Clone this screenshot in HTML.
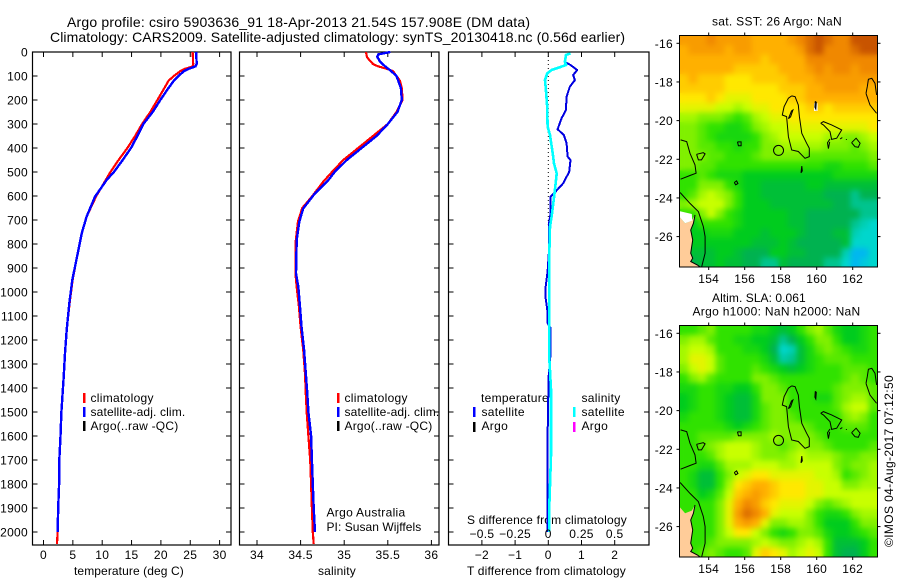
<!DOCTYPE html>
<html lang="en">
<head>
<meta charset="utf-8">
<title>Argo profile chart</title>
<style>
html,body{margin:0;padding:0;background:#fff;}
svg{display:block;}
text{font-family:"Liberation Sans",sans-serif;font-size:12px;fill:#000;letter-spacing:.3px;}
.t14{font-size:14px;letter-spacing:0;}
</style>
</head>
<body>
<svg id="chart" xmlns="http://www.w3.org/2000/svg" width="900" height="580" viewBox="0 0 900 580">
<defs>
<clipPath id="map1clip"><rect x="679.5" y="35.5" width="198" height="231.5"/></clipPath>
<clipPath id="map2clip"><rect x="679.5" y="325.5" width="198" height="231.5"/></clipPath>
<filter id="soften" x="-5%" y="-5%" width="110%" height="110%" color-interpolation-filters="sRGB">
<feGaussianBlur in="SourceGraphic" stdDeviation="3" result="soft"/>
<feMerge><feMergeNode in="SourceGraphic"/><feMergeNode in="soft"/></feMerge>
</filter>
</defs>
<text class="t14" x="67" y="27" textLength="463">Argo profile: csiro 5903636_91 18-Apr-2013 21.54S 157.908E (DM data)</text>
<text class="t14" x="50" y="42" textLength="575">Climatology: CARS2009. Satellite-adjusted climatology: synTS_20130418.nc (0.56d earlier)</text>

<text x="74" y="575" textLength="110">temperature (deg C)</text>
<text x="318" y="575" textLength="38">salinity</text>
<text x="467" y="575" textLength="159">T difference from climatology</text>
<text x="467" y="524" textLength="160">S difference from climatology</text>

<g>
<rect x="83" y="393" width="2.5" height="10" fill="#ff0000"/>
<text x="90.5" y="402">climatology</text>
<rect x="83" y="407" width="2.5" height="10" fill="#0000ff"/>
<text x="90.5" y="416" textLength="95">satellite-adj. clim.</text>
<rect x="83" y="421" width="2.5" height="10" fill="#000"/>
<text x="90.5" y="430" textLength="88">Argo(..raw -QC)</text>
</g>
<g>
<rect x="337" y="393" width="2.5" height="10" fill="#ff0000"/>
<text x="344.5" y="402">climatology</text>
<rect x="337" y="407" width="2.5" height="10" fill="#0000ff"/>
<text x="344.5" y="416" textLength="95">satellite-adj. clim.</text>
<rect x="337" y="421" width="2.5" height="10" fill="#000"/>
<text x="344.5" y="430" textLength="88">Argo(..raw -QC)</text>
</g>
<g>
<text x="481" y="402">temperature</text>
<rect x="473" y="407" width="2.5" height="10" fill="#0000ff"/>
<text x="481.5" y="416">satellite</text>
<rect x="473" y="422" width="2.5" height="10" fill="#000"/>
<text x="481.5" y="430">Argo</text>
<text x="581.5" y="402">salinity</text>
<rect x="573" y="407" width="2.5" height="10" fill="#00ffff"/>
<text x="581.5" y="416">satellite</text>
<rect x="573" y="422" width="2.5" height="10" fill="#ff00ff"/>
<text x="581.5" y="430">Argo</text>
</g>
<text x="326.5" y="516.5" textLength="79">Argo Australia</text>
<text x="326.5" y="531" textLength="95">PI: Susan Wijffels</text>

<text x="712" y="25.5" textLength="130">sat. SST: 26 Argo: NaN</text>
<text x="712" y="302" textLength="94">Altim. SLA: 0.061</text>
<text x="692.5" y="315.5" textLength="168">Argo h1000: NaN h2000: NaN</text>
<text transform="translate(893,547) rotate(-90)" x="0" y="0" textLength="172">©IMOS 04-Aug-2017 07:12:50</text>
</svg>

<script>
// ---- profile data ----
var tempClimDepth = [0,50,60,70,80,100,120,150,200,250,300,350,400,450,500,550,600,686,756,860,950,1047,1158,1256,1367,1442,1500,1600,1700,1800,1900,2000,2050];
var tempClimValues = [25.4,25.5,25.45,24.1,23.3,22.2,21.3,20.6,19.4,18.2,16.8,15.6,14.3,12.8,11.4,10.2,9.0,7.35,6.5,5.65,4.95,4.45,3.95,3.66,3.4,3.2,3.05,2.9,2.7,2.65,2.5,2.4,2.3];
var tempSatDepth = [0,50,60,70,80,100,120,150,200,250,300,350,400,450,500,533,603,686,756,860,950,1047,1158,1256,1367,1442,1500,1600,1700,1800,1900,2000];
var tempSatValues = [26.0,26.1,25.9,24.7,23.9,23.0,22.2,21.3,19.9,18.6,17.0,16.0,14.9,13.5,12.0,10.76,8.77,7.35,6.5,5.65,4.9,4.4,3.95,3.66,3.4,3.2,3.05,2.9,2.7,2.65,2.5,2.4];

var salClimDepth = [0,20,30,50,60,70,80,100,120,150,200,250,300,350,400,450,500,540,600,650,705,785,920,980,1060,1145,1240,1340,1425,1500,1600,1700,1800,1900,2000,2050];
var salClimValues = [35.25,35.26,35.28,35.33,35.39,35.49,35.56,35.6,35.64,35.66,35.67,35.6,35.5,35.33,35.16,34.99,34.86,34.76,34.635,34.52,34.47,34.445,34.44,34.455,34.48,34.50,34.53,34.55,34.56,34.57,34.59,34.61,34.62,34.63,34.64,34.65];
var salSatDepth = [0,10,20,40,60,80,100,150,200,250,300,350,400,450,500,533,596,652,707,783,922,978,1061,1144,1242,1338,1423,1500,1600,1700,1800,1900,2000];
var salSatValues = [35.53,35.39,35.38,35.41,35.47,35.54,35.6,35.65,35.66,35.61,35.5,35.37,35.2,35.03,34.89,34.82,34.65,34.53,34.485,34.455,34.447,34.474,34.493,34.51,34.54,34.56,34.577,34.59,34.62,34.63,34.64,34.65,34.665];

var tDiffDepth = [40,54,75,96,117,144,186,242,276,322,346,381,436,450,499,547,589,603,672,714,825,915,980,1025,1075,1130,1150,1255,1354,1600,1880,2000];
var tDiffValues = [0.47,0.67,0.87,0.75,0.80,0.65,0.55,0.53,0.40,0.28,0.47,0.55,0.58,0.67,0.63,0.45,0.17,0.07,0.07,0.02,0.02,-0.02,-0.08,-0.08,-0.03,-0.02,0.07,0.07,0.01,-0.02,-0.02,-0.02];
var sDiffDepth = [6,12,40,54,61,75,89,117,158,228,311,346,422,464,506,575,631,686,728,825,1000,1283,1405,1680,1880,2000];
var sDiffValues = [0.168,0.133,0.125,0.133,0.10,0.025,-0.008,-0.025,-0.018,-0.008,-0.005,0.0125,0.033,0.043,0.063,0.05,0.038,0.025,0.0125,0.008,0.008,0.008,0.02,0.02,0.008,0.008];
var zeroLineDepth = [0,720];

// ---- tick labels ----
var depthTicks = [0,100,200,300,400,500,600,700,800,900,1000,1100,1200,1300,1400,1500,1600,1700,1800,1900,2000];
var tempTicks = [0,5,10,15,20,25,30];
var salTicks = [34,34.5,35,35.5,36];
var tDiffTicks = [-2,-1,0,1,2];
var sDiffTicks = [-0.5,-0.25,0,0.25,0.5];
var lonTicks = [154,156,158,160,162];
var latTicks = [16,18,20,22,24,26];

// ---- map grids: colour-scale index per 0.5 degree cell (rows north to south) ----
var sstGrid = [
[8.5,8.5,8.5,9,8.5,8.5,8.5,8.5,8,8,8,8,8.5,9,9.5,10,9.5,9,9,10,10,10],
[8,8.5,8.5,8.5,8.5,8,8.5,8.5,8,8,8,8,8,8.5,9.5,10,9,9,9,9.5,10,10],
[8,8,8,8,8,8,8,8,8,7.5,8,8,8,8,9,9,9,9,9,9,9,9],
[8,8,8,8,8,8,7.5,7.5,7.5,7.5,7.5,8,8,8,8.5,9,8.5,9,9,8.5,9,9],
[7.5,8,7.5,7.5,7.5,7,7,7,7.5,7.5,7.5,7.5,8,8,8,8.5,8.5,8.5,8.5,8.5,8.5,8.5],
[7.5,7.5,7.5,7.5,7.5,7,7,7,7,7,7,7.5,7.5,7.5,8,8,8.5,8.5,8.5,8.5,8,8],
[7,7,7,7.5,7,6.5,6.5,6.5,7,7,7,7,7.5,7.5,8,8,8,8,8,8,8,8],
[6.5,6.5,6.5,6.5,6,6,5.5,6,6.5,6.5,7,7,7,7,7.5,7.5,7,7.5,7.5,7.5,7.5,7.5],
[5.5,5.5,5,5,5,4.5,4,4.5,5.5,6,6.5,6.5,7,7,7,7,7,7,7,7,7,7],
[5,5,4.5,4,4,3.5,3.5,4,5,5.5,6,6,6.5,6.5,6.5,6.5,6.5,6.5,6.5,6.5,6.5,7],
[5,5,4.5,4,3.5,3.5,3.5,3.5,4,5,5.5,6,6,6,6,6,5.5,5.5,5,5,5.5,6],
[5,5,4.5,4.5,4,4,3.5,4,4,5,5,5.5,5.5,5.5,5.5,5.5,5,5,5,4.5,5,5.5],
[5,5,5,4.5,4.5,4,4,4,4.5,5,5,5,5,5,4.5,4.5,4.5,4.5,4.5,4.5,4.5,5],
[5,5,4.5,4.5,4,4,4,4,4,4,4,4,4,4,4,4,3.5,3.5,4,4,4,4.5],
[4,4,4.5,4,3.5,3.5,3.5,3,3,3,3,3,3,3,3,3,3,3.5,3.5,3.5,3.5,3.5],
[4,4,5,5,5,4,3.5,3,3,2.5,2.5,2.5,2.5,2.5,3,3,2.5,2.5,2.5,2.5,2.5,2.5],
[4,4.5,5.5,6,5.5,5,4,3,3,2.5,2.5,2.5,2.5,2.5,2.5,2.5,2,2,2,1.5,2,2],
[5,5.5,6,6,6,5,4,3,3,3,2.5,2.5,2.5,2.5,2.5,2.5,2.5,2,2,1.5,1.5,1.5],
[4,4,5,6,5,4,3.5,3,3,3,3,3,2.5,2.5,2,2,2,2,2,2,1.5,1.5],
[3,3,4,4,4,4,3.5,3,3,3,3,3,2.5,2.5,2,2,2,2,2,1.5,1.2,1],
[3,3,3,3.5,3.5,3.5,3,3,3,2.5,3,3,3,2.5,2,2,2,2.5,2.5,1.2,1,1],
[3,3,3,3,3,3,3,3,2.5,2.5,2.5,3,2.5,2,2,2,2,2,2.5,1,1,1],
[3,2.5,2.5,2.5,3,3,2.5,2,2,2,3,3,2.5,2.5,2,2,2,2,1.2,0.3,0.3,1],
[3,2,2.5,2.5,3,2.5,2.5,2,2,1.5,1.5,2.5,2,2,2,2,1.5,1.5,1,0.3,0.7,1]
];
var slaGrid = [
[4,4,4.5,5,4,4,4,4,3.5,3.5,3,2.5,3,4,5,5.5,4.5,3.5,3,3,3.5,4],
[5,5.5,5.5,4.5,4,4,3.5,3.5,3,3,2.5,1.5,2,3,4,5,5,4,3,3,3.5,4],
[5.5,6,6,5.5,4,4,4,3.5,3.5,3,2,1,1.2,2.5,3.5,4.5,5,4.5,4,3.5,3.5,4],
[5.5,6.5,6.5,6,4.5,4,4,4,4,3.5,2.5,1.3,1.5,2.5,3.5,4,4.5,4.5,4.5,4,4,4],
[5,6,6.5,6,4.5,4,4,4,4.5,4,3.5,3,2.5,3,3.5,4,4,4,4.5,4.5,4.5,4],
[4,5,5.5,4.5,4,4,4,4,5,5,4.5,4,4,4,4,4,4,4,4.5,5,4.5,4],
[3.5,3.5,4,4,3.5,3.5,3,3,4,5,5,4.5,4,4,4,4,4,4.5,5,5,5,4.5],
[3,3.5,4,4,3.5,3,2.5,2.5,3.5,5,5,5,4,4,4,3.5,3.5,4.5,5,5.5,5.5,4.5],
[3,3.5,4,4,3.5,3,2.5,2.5,3.5,4.5,5,5,4,4,4,4,4,4.5,5.5,6,6,4.5],
[3.5,4,4,4,3.5,3,2.5,2.5,3.5,4.5,5,5,4.5,4,4,4,4,4,5,5.5,5,4],
[4,4,4,4,4,3.5,3,3.5,4,4.5,5,5,5,5,4.5,4,4,4,4.5,4.5,4.5,4],
[4,4,4.5,4.5,4.5,4.5,5,5,5,5,5.5,5,5,5,5,4.5,4,4,4,4,4,4],
[4,4,4.5,5,5.5,6,6,6,5.5,5,5,4.5,5,5.5,5,5,4.5,4,4,4,4,4.5],
[4,4,4,4.5,5.5,6,6,6,5.5,5,5,5,5.5,6,5.5,5.5,5.5,5,4.5,4.5,5,5],
[4,4,3.5,3.5,4.5,5.5,5.5,5.5,6,6,6,5.5,5.5,6,6,6,6,5,4.5,5,5,5.5],
[4,3.5,2.5,2.5,4,5,6,6.5,7,7,6.5,6.5,6.5,6.5,6.5,6,6,5.5,4,4.5,5,5.5],
[4,3.5,2.5,2.5,4,5.5,7,7.5,8,8,7.5,7,7,7,6.5,6.5,6,6,5,5,5.5,5.5],
[4,4,3,3.5,4.5,6,7.5,8,8.5,8,7.5,7,7,7,6.5,6.5,6,6,6,6,6,6],
[4,4,4,4,5,6.5,8,9,8.5,7.5,7,6.5,6.5,6.5,6,5,4.5,5,5.5,6,6,6],
[4,4,4,4,5,6.5,8.5,9.5,9,8,6.5,6,6,6,5,4,3.5,3.5,4,5,5.5,5.5],
[4,4,4,4,5,6.5,8,8.5,8,6.5,5,5,5.5,5.5,5,4,3,3,3,4,5,5],
[4,4,4,4,5,6,7,7,6,5,4,3.5,4,5,5,4.5,3.5,3,3,3.5,4,4.5],
[4,4,4,4.5,5,5,5,5,5.5,6,5.5,5,5,5.5,6,5.5,4,2.5,2.5,2.5,3,4],
[4,4,4.5,5,4.5,4,4,4.5,6.5,7.5,7,6.5,5.5,6,6.5,6,4,2.5,2,2,3,4]
];

// ---- geography (lon,lat pairs) ----
var profileLon = 157.908;
var profileLat = 21.54;
var landOutline = [[152.37,24.97],[152.69,25.31],[153.06,25.17],[153.24,24.88],[153.15,25.31],[153,25.66],[153.11,26.17],[153,26.86],[153.11,27.12],[153,27.29],[153.37,27.47],[153.56,27.6],[152.37,27.6]];
var noDataPatch = [[152.37,24.68],[153.06,24.83],[153.09,25.17],[152.69,25.31],[152.37,24.97]];
var sstGapLon = [159.85,160.05];
var sstGapLat = [19.1,19.5];
var coastLines = [
[[158.61,18.72],[158.80,18.76],[158.98,19.19],[159.04,19.79],[159.17,20.66],[159.44,21.17],[159.59,21.43],[159.59,21.86],[159.35,21.95],[158.98,21.60],[158.61,21.52],[158.43,20.83],[158.33,19.79],[158.09,19.71],[158.19,19.28],[158.43,18.84],[158.61,18.72]],
[[158.43,19.9],[158.6,19.5],[158.68,19.45],[158.55,19.8],[158.43,19.9]],
[[159.92,19.0],[159.98,19.05],[159.95,19.4],[159.9,19.3],[159.92,19.0]],
[[162.74,18.59],[162.81,18.24],[162.87,17.86],[163.06,17.81],[163.24,18.07],[163.33,18.67]],
[[162.74,18.59],[162.96,19.19],[163.33,19.62]],
[[160.22,20.14],[160.37,20.05],[160.83,20.22],[161.39,20.48],[161.11,20.91],[160.83,20.97],[160.74,20.57],[160.37,20.22],[160.22,20.14]],
[[160.74,20.95],[160.6,21.14],[160.65,21.45],[160.72,21.1]],
[[161.3,20.95],[161.42,20.88]],
[[161.65,20.95],[161.65,21.0]],
[[161.94,21.14],[162.19,20.91],[162.41,21.17],[162.31,21.38],[162.13,21.35],[161.94,21.14]],
[[155.6,21.1],[155.8,21.1],[155.8,21.3],[155.65,21.3],[155.6,21.1]],
[[159.17,22.35],[159.13,22.7],[159.2,22.6],[159.17,22.35]],
[[155.42,23.2],[155.55,23.12],[155.62,23.26],[155.5,23.32],[155.42,23.2]],
[[152.44,21.0],[152.78,21.09],[152.96,21.69],[153.24,22.29],[153.3,22.72],[152.96,22.84],[152.44,23.03]],
[[153.33,21.74],[153.7,21.66],[153.8,21.72],[153.6,22.03],[153.43,22.03],[153.33,21.74]],
[[152.41,23.72],[152.96,24.28],[153.43,24.71],[153.7,25.48],[153.8,26.0],[153.8,26.86],[153.6,27.6]],
[[153.24,24.88],[153.15,25.31],[153,25.66],[153.11,26.17],[153,26.86],[153.11,27.12],[153,27.29],[153.37,27.47],[153.56,27.6]]
];

// ---- axis functions ----
var NS = 'http://www.w3.org/2000/svg';
var chart = document.getElementById('chart');
function yDepth(d){ return 52 + d * 0.24; }
function xTemp(t){ return 43.5 + t * 5.87; }
function xSal(s){ return 257 + (s - 34) * 87.2; }
function xTDiff(t){ return 548.3 + t * 33.2; }
function xSDiff(s){ return 548.3 + s * 132.8; }
function xLon(lon){ return 708.7 + (lon - 154) * 18; }
function yLatTop(lat){ return 43.3 + (lat - 16) * 19.33; }
function yLatBottom(lat){ return 333.3 + (lat - 16) * 19.33; }

function mk(tag, attrs, parent){
  var e = document.createElementNS(NS, tag);
  for (var k in attrs) { e.setAttribute(k, attrs[k]); }
  (parent || chart).appendChild(e);
  return e;
}
function pts(depths, values, xf){
  return depths.map(function(d, i){ return xf(values[i]).toFixed(1) + ',' + yDepth(d).toFixed(1); }).join(' ');
}
function colorFor(v){
  var stops = [[0,0,170,255],[1,0,214,205],[2,0,178,80],[3,0,204,30],[4,48,226,0],[5,128,240,0],[6,200,255,0],[7,255,232,0],[8,255,176,0],[9,240,136,0],[10,200,84,0]];
  var i = Math.min(9, Math.floor(v));
  var f = v - i;
  var a = stops[i], b = stops[i + 1];
  return 'rgb(' + Math.round(a[1] + (b[1] - a[1]) * f) + ',' + Math.round(a[2] + (b[2] - a[2]) * f) + ',' + Math.round(a[3] + (b[3] - a[3]) * f) + ')';
}

// ---- profile panels ----
var panels = [
  {name:'temperature-panel', x0:32.5, x1:231},
  {name:'salinity-panel', x0:239.5, x1:439},
  {name:'difference-panel', x0:448.5, x1:649}
];
var tickCol = '#000';
panels.forEach(function(p, idx){
  var g = mk('g', {});
  
  
  var frame = mk('rect', {x:p.x0, y:52, width:p.x1 - p.x0, height:493, fill:'none', stroke:'#000', 'stroke-width':1.2}, g);
  
  
  depthTicks.forEach(function(d){
    [[p.x0, p.x0 + 5],[p.x1 - 5, p.x1]].forEach(function(s){
      var t = mk('line', {x1:s[0], x2:s[1], y1:yDepth(d), y2:yDepth(d), stroke:tickCol}, g);
      
      
    });
  });
});
depthTicks.forEach(function(d){
  var t = mk('text', {x:28, y:yDepth(d) + 4.5, 'text-anchor':'end'});
  
  
  t.textContent = String(d);
});
function xAxis(ticks, xf, fmt, labelY, drawTicks){
  ticks.forEach(function(v){
    var x = xf(v);
    if (drawTicks) {
      [[52,57],[540,545]].forEach(function(s){
        var t = mk('line', {x1:x, x2:x, y1:s[0], y2:s[1], stroke:tickCol});
        
        
      });
    }
    var l = mk('text', {x:x, y:labelY, 'text-anchor':'middle'});
    
    
    l.textContent = fmt(v);
  });
}
function plain(v){ return String(v).replace('-', '\u2212'); }
xAxis(tempTicks, xTemp, plain, 559, true);
xAxis(salTicks, xSal, plain, 559, true);
xAxis(tDiffTicks, xTDiff, plain, 559, true);

function line(depths, values, xf, color, width){
  return mk('polyline', {points:pts(depths, values, xf), fill:'none', stroke:color, 'stroke-width':width, 'stroke-linejoin':'round', 'shape-rendering':'crispEdges'});
}
var zeroLine = mk('line', {x1:xTDiff(0), x2:xTDiff(0), y1:yDepth(zeroLineDepth[0]), y2:yDepth(zeroLineDepth[1]), stroke:'#000', 'stroke-width':1, 'stroke-dasharray':'1 3'});


var lineA = line(tempClimDepth, tempClimValues, xTemp, '#ff0000', 2.2);


var lineB = line(tempSatDepth, tempSatValues, xTemp, '#0000ff', 2.4);


var lineC = line(salClimDepth, salClimValues, xSal, '#ff0000', 2.2);


var lineD = line(salSatDepth, salSatValues, xSal, '#0000ff', 2.4);


var lineE = line(tDiffDepth, tDiffValues, xTDiff, '#0000e0', 2);


var lineF = line(sDiffDepth, sDiffValues, xSDiff, '#00ffff', 2.6);


xAxis(sDiffTicks, xSDiff, plain, 538, false);

// ---- maps ----
function drawMap(name, grid, yLat, clipId, top, hasPatch){
  var g = mk('g', {});
  
  
  var clipper = mk('g', {'clip-path':'url(#' + clipId + ')'}, g);
  var inner = mk('g', {'filter':'url(#soften)', 'shape-rendering':'crispEdges'}, clipper);
  grid.forEach(function(row, r){
    row.forEach(function(v, c){
      var lon = 152.37 + c * 0.5;
      var lat = 15.58 + r * 0.5;
      var cell = mk('rect', {x:xLon(lon), y:yLat(lat), width:9.6, height:10.2, fill:colorFor(v)}, inner);
      
      
    });
  });
  var over = mk('g', {'clip-path':'url(#' + clipId + ')'}, g);
  function toPts(list){ return list.map(function(q){ return xLon(q[0]).toFixed(1) + ',' + yLat(q[1]).toFixed(1); }).join(' '); }
  var land = mk('polygon', {points:toPts(landOutline), fill:'#ffcc99'}, over);
  
  
  if (hasPatch) {
    var patch = mk('polygon', {points:toPts(noDataPatch), fill:'#fff'}, over);
    
    
    var gap = mk('rect', {x:xLon(sstGapLon[0]), y:yLat(sstGapLat[0]), width:xLon(sstGapLon[1]) - xLon(sstGapLon[0]), height:yLat(sstGapLat[1]) - yLat(sstGapLat[0]), fill:'#fff'}, over);
    
    
  }
  coastLines.forEach(function(seg){
    var c = mk('polyline', {points:toPts(seg), fill:'none', stroke:'#000', 'stroke-width':1}, over);
    
    
  });
  var marker = mk('circle', {cx:xLon(profileLon) - 0.5, cy:yLat(profileLat), r:5, fill:'none', stroke:'#000', 'stroke-width':1}, over);
  
  
  var frame = mk('rect', {x:679.5, y:top, width:198, height:231.5, fill:'none', stroke:'#000', 'stroke-width':1}, g);
  
  
  lonTicks.forEach(function(lon){
    var x = xLon(lon);
    [[top - 3, top],[top + 231.5, top + 234.5]].forEach(function(s){
      var t = mk('line', {x1:x, x2:x, y1:s[0], y2:s[1], stroke:'#000'}, g);
      
      
    });
    var l = mk('text', {x:x, y:top + 247.5, 'text-anchor':'middle'}, g);
    
    
    l.textContent = String(lon);
  });
  latTicks.forEach(function(lat){
    var y = yLat(lat);
    [[676.5,679.5],[877.5,880.5]].forEach(function(s){
      var t = mk('line', {x1:s[0], x2:s[1], y1:y, y2:y, stroke:'#000'}, g);
      
      
    });
    var l = mk('text', {x:673, y:y + 4.5, 'text-anchor':'end'}, g);
    
    
    l.textContent = '-' + lat;
  });
}
drawMap('sst-map', sstGrid, yLatTop, 'map1clip', 35.5, true);
drawMap('sla-map', slaGrid, yLatBottom, 'map2clip', 325.5, false);
</script>
</body>
</html>
